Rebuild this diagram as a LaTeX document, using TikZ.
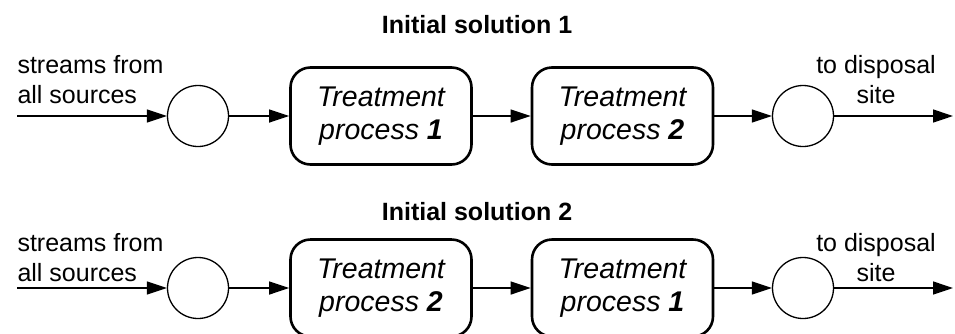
\documentclass[tikz,border=0pt]{standalone}
\usepackage{fontspec}
\setmainfont{Liberation Sans}
\usetikzlibrary{arrows.meta}
\tikzset{
  mixer/.style={draw,circle,minimum size=61pt,inner sep=0pt,line width=1.3pt},
  process/.style={draw,rounded corners=20pt,line width=2.6pt,minimum width=181pt,
    minimum height=97pt,inner sep=0pt,align=center,
    font=\fontsize{28.5}{33}\selectfont\itshape},
  note/.style={align=center,font=\fontsize{25}{30}\selectfont},
  heading/.style={font=\fontsize{25}{30}\selectfont\bfseries},
  flow/.style={line width=1.3pt,-{Triangle[length=20pt,width=13pt]}}
}
\begin{document}
\begin{tikzpicture}[x=1pt,y=-1pt]
      \useasboundingbox (0,0) rectangle (955,333);
      % initial solution 1
      \node[heading] (t1) at (477,25) {Initial solution 1};
      \coordinate (in1) at (17,116);
      \coordinate (out1) at (953,116);
      \draw
        (198,116) node[mixer] (m1){}
        (381,116) node[process] (a1){Treatment\\process \textbf{1}}
        (622.5,116) node[process] (b1){Treatment\\process \textbf{2}}
        (803,116) node[mixer] (n1){};
      \node[note,align=left,anchor=west] (s1) at (14,80) {streams from\\all sources};
      \node[note] (d1) at (876,80) {to disposal\\site};
      % initial solution 2
      \node[heading] (t2) at (477,212) {Initial solution 2};
      \coordinate (in2) at (17,288);
      \coordinate (out2) at (953,288);
      \draw
        (198,288) node[mixer] (m2){}
        (381,288) node[process] (a2){Treatment\\process \textbf{2}}
        (622.5,288) node[process] (b2){Treatment\\process \textbf{1}}
        (803,288) node[mixer] (n2){};
      \node[note,align=left,anchor=west] (s2) at (14,258) {streams from\\all sources};
      \node[note] (d2) at (876,258) {to disposal\\site};
      \begin{scope}[flow]
        \draw (in1) to (m1);
        \draw (m1) to (a1);
        \draw (a1) to (b1);
        \draw (b1) to (n1);
        \draw (n1) to (out1);
        \draw (in2) to (m2);
        \draw (m2) to (a2);
        \draw (a2) to (b2);
        \draw (b2) to (n2);
        \draw (n2) to (out2);
      \end{scope}
    \end{tikzpicture}
\end{document}
